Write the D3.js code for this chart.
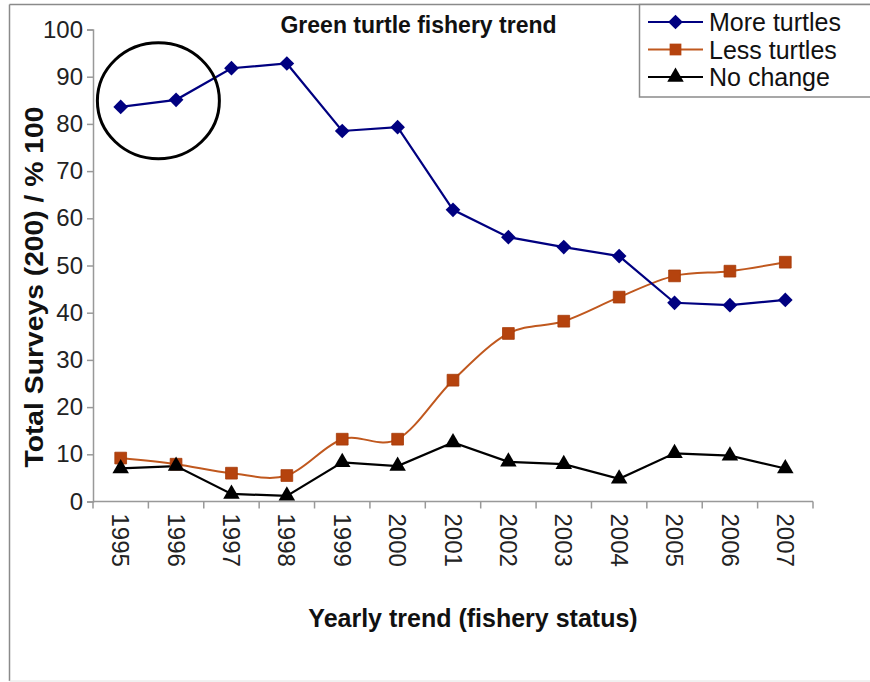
<!DOCTYPE html>
<html>
<head>
<meta charset="utf-8">
<script src="https://cdn.jsdelivr.net/npm/d3@7"></script>
<style>
  body { margin: 0; background: #fff; }
  text { font-family: "Liberation Sans", Arial, sans-serif; }
</style>
</head>
<body>
<svg id="chart" width="870" height="682"></svg>
<script>
// Survey answers per year (% of 200 surveys)
const years = ["1995","1996","1997","1998","1999","2000","2001","2002","2003","2004","2005","2006","2007"];
const moreTurtles = [83.6, 85.1, 91.8, 92.8, 78.5, 79.3, 61.8, 56.0, 53.9, 52.0, 42.1, 41.6, 42.7];
const lessTurtles = [9.2, 7.9, 6.0, 5.5, 13.2, 13.2, 25.7, 35.6, 38.2, 43.3, 47.8, 48.8, 50.7];
const noChange    = [7.0, 7.5, 1.6, 1.2, 8.3, 7.5, 12.5, 8.4, 7.9, 4.8, 10.2, 9.7, 7.0];
const yTicks = [0, 10, 20, 30, 40, 50, 60, 70, 80, 90, 100];
const seriesNames = ["More turtles", "Less turtles", "No change"];

const svg = d3.select("#chart");

// outer frame
svg.append("line").attr("x1", 9.5).attr("y1", 4.5).attr("x2", 9.5).attr("y2", 681)
  .attr("stroke", "#8a8a8a").attr("stroke-width", 1.5);
svg.append("line").attr("x1", 9.5).attr("y1", 4.5).attr("x2", 870).attr("y2", 4.5)
  .attr("stroke", "#8a8a8a").attr("stroke-width", 1.5);
svg.append("line").attr("x1", 9.5).attr("y1", 681).attr("x2", 870).attr("y2", 681)
  .attr("stroke", "#e2e2e2").attr("stroke-width", 1);

const x = d3.scaleBand().domain(years).range([93, 813]).padding(0);
const y = d3.scaleLinear().domain([0, 100]).range([501.5, 29.5]);
const cx = d => x(d) + x.bandwidth() / 2;

// y axis
const yAxis = svg.append("g").attr("transform", "translate(93,0)")
  .call(d3.axisLeft(y).tickValues(yTicks).tickSize(6).tickPadding(4));
yAxis.select(".domain").attr("stroke", "#999").attr("stroke-width", 1.5);
yAxis.selectAll(".tick line").attr("stroke", "#999").attr("stroke-width", 1.5);
yAxis.selectAll(".tick text")
  .style("font-family", "'Liberation Sans', Arial, sans-serif")
  .style("font-size", "24px").attr("fill", "#222");

// x axis: ticks sit on the category boundaries
const xAxis = svg.append("g").attr("transform", `translate(0,${y(0)})`);
xAxis.append("line").attr("x1", 93).attr("x2", 813).attr("y1", 0).attr("y2", 0)
  .attr("stroke", "#999").attr("stroke-width", 1.5);
const bounds = years.map(d => x(d)).concat([x.range()[1]]);
xAxis.selectAll("line.tk").data(bounds).join("line").attr("class", "tk")
  .attr("x1", d => d).attr("x2", d => d).attr("y1", 0).attr("y2", 7)
  .attr("stroke", "#999").attr("stroke-width", 1.5);
xAxis.selectAll("text.yr").data(years).join("text").attr("class", "yr")
  .attr("transform", d => `translate(${cx(d)},12) rotate(90)`)
  .attr("dy", "0.35em")
  .style("font-size", "24px").attr("fill", "#222")
  .text(d => d);

// series lines
const line = d3.line().x((v, i) => cx(years[i])).y(v => y(v));
const smooth = d3.line().x((v, i) => cx(years[i])).y(v => y(v)).curve(d3.curveCardinal.tension(0));

const navy = "#000080", rust = "#b5430e", black = "#000";

svg.append("path").attr("d", smooth(lessTurtles)).attr("fill", "none")
  .attr("stroke", "#c0581e").attr("stroke-width", 2);
svg.append("path").attr("d", line(noChange)).attr("fill", "none")
  .attr("stroke", black).attr("stroke-width", 2.2);
svg.append("path").attr("d", line(moreTurtles)).attr("fill", "none")
  .attr("stroke", navy).attr("stroke-width", 2.2);

const diamond = d3.symbol().type(d3.symbolSquare).size(108)();
const square = d3.symbol().type(d3.symbolSquare).size(138)();
const triangle = d3.symbol().type(d3.symbolTriangle).size(118)();

svg.append("g").selectAll("path").data(lessTurtles).join("path")
  .attr("d", square).attr("fill", rust).attr("stroke", "#a63a08").attr("stroke-width", 0.8)
  .attr("transform", (v, i) => `translate(${cx(years[i])},${y(v)})`);
svg.append("g").selectAll("path").data(noChange).join("path")
  .attr("d", triangle).attr("fill", black)
  .attr("transform", (v, i) => `translate(${cx(years[i])},${y(v)})`);
svg.append("g").selectAll("path").data(moreTurtles).join("path")
  .attr("d", diamond).attr("fill", navy)
  .attr("transform", (v, i) => `translate(${cx(years[i])},${y(v)}) rotate(45)`);

// circled early years
svg.append("ellipse").attr("cx", (cx("1995") + cx("1996")) / 2 + 10).attr("cy", y(84.9))
  .attr("rx", 61).attr("ry", 58).attr("fill", "none").attr("stroke", "#000").attr("stroke-width", 3);

// title and axis titles
svg.append("text").attr("x", 418.5).attr("y", 33).attr("text-anchor", "middle")
  .style("font-size", "23px").style("font-weight", "bold").attr("fill", "#111")
  .text("Green turtle fishery trend");
svg.append("text").attr("x", 473).attr("y", 627).attr("text-anchor", "middle")
  .style("font-size", "25px").style("font-weight", "bold").attr("fill", "#111")
  .text("Yearly trend (fishery status)");
svg.append("text").attr("transform", "translate(43,287) rotate(-90)").attr("text-anchor", "middle")
  .style("font-size", "25px").style("font-weight", "bold").attr("fill", "#111")
  .attr("textLength", 361).attr("lengthAdjust", "spacingAndGlyphs")
  .text("Total Surveys (200) / % 100");

// legend
const lg = svg.append("g");
lg.append("rect").attr("x", 639.5).attr("y", 4.5).attr("width", 240).attr("height", 92.5)
  .attr("fill", "#fff").attr("stroke", "#8a8a8a").attr("stroke-width", 1.5);
const legendColors = [navy, "#c0581e", black];
const legendMarks = [diamond, square, triangle];
const legendMarkFill = [navy, rust, black];
seriesNames.forEach((name, i) => {
  const ly = 22 + i * 27.5;
  lg.append("line").attr("x1", 648).attr("x2", 703).attr("y1", ly).attr("y2", ly)
    .attr("stroke", legendColors[i]).attr("stroke-width", 2);
  lg.append("path").attr("d", legendMarks[i]).attr("fill", legendMarkFill[i])
    .attr("transform", `translate(675.5,${ly})${i === 0 ? " rotate(45)" : ""}`);
  lg.append("text").attr("x", 709).attr("y", ly).attr("dy", "0.36em")
    .style("font-size", "25px").attr("fill", "#111").text(name);
});
</script>
</body>
</html>
